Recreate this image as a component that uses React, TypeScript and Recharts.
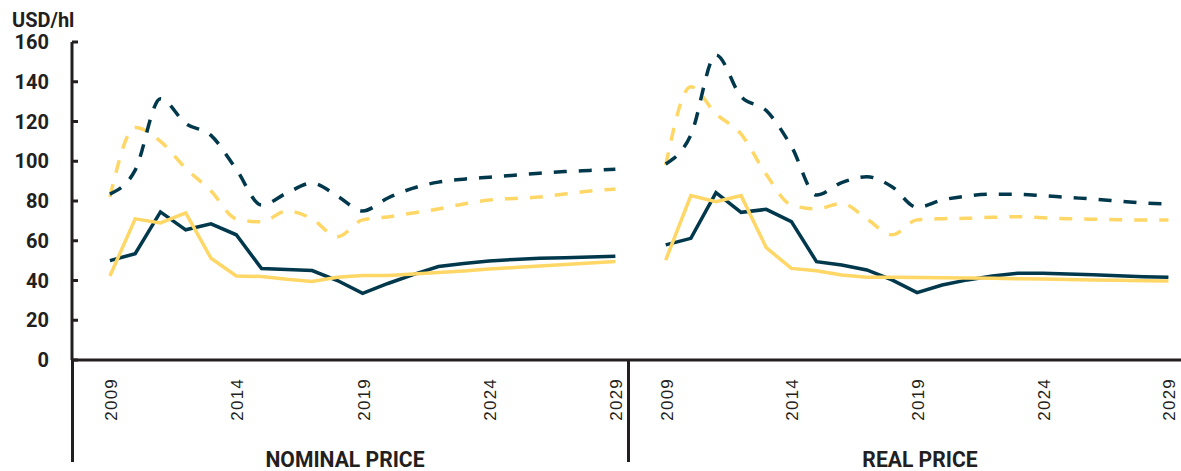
import React from "react";
import { LineChart, Line, XAxis, YAxis } from "recharts";

const years = [
  2009, 2010, 2011, 2012, 2013, 2014, 2015, 2016, 2017, 2018, 2019,
  2020, 2021, 2022, 2023, 2024, 2025, 2026, 2027, 2028, 2029,
];

// nominal price, USD/hl
const nominalDarkSolid = [50, 53.5, 74.5, 65.5, 68.5, 63, 46, 45.5, 45, 40, 33.5, 38.5, 43, 47, 48.6, 49.8, 50.6, 51.2, 51.5, 51.8, 52.2];
const nominalYellowSolid = [42.3, 71, 69, 74, 51.2, 42.3, 42, 40.6, 39.5, 41.6, 42.5, 42.5, 43.3, 44, 44.8, 45.8, 46.5, 47.3, 48, 48.8, 49.5];
const nominalDarkDashed = [83.5, 95.5, 131.5, 119, 113, 96, 78, 84, 89, 82.5, 75, 81.5, 86.5, 89.5, 91, 92, 93, 94, 94.8, 95.4, 96];
const nominalYellowDashed = [82, 117, 110, 96.5, 85, 71, 69.5, 75, 71, 62, 70.5, 72, 74, 76, 78.5, 80.5, 81.3, 82, 83.5, 85, 86];

// real price, USD/hl
const realDarkSolid = [57.9, 61.2, 84.2, 74.3, 75.8, 69.6, 49.5, 47.8, 45.3, 40.3, 33.9, 37.7, 40.3, 42.3, 43.6, 43.6, 43.3, 42.9, 42.4, 41.9, 41.6];
const realYellowSolid = [50.3, 82.7, 79.7, 82.7, 56.5, 46.1, 44.9, 42.8, 41.6, 41.6, 41.5, 41.4, 41.3, 41.1, 40.9, 40.7, 40.5, 40.3, 40.1, 39.9, 39.8];
const realDarkDashed = [98.6, 113.2, 153.5, 132.5, 125.5, 107.5, 83, 89.2, 92.2, 87.2, 76.8, 80.5, 82.5, 83.4, 83.4, 82.7, 81.8, 81, 80, 79, 78.5];
const realYellowDashed = [98, 137.5, 123.8, 113.7, 93.3, 78, 76, 78.8, 71, 63, 70.5, 71.1, 71.3, 71.8, 72.1, 71.6, 71.1, 70.8, 70.6, 70.4, 70.4];

const yearTicks = [2009, 2014, 2019, 2024, 2029];
const priceTicks = [0, 20, 40, 60, 80, 100, 120, 140, 160];

const DARK = "#01384c";
const YELLOW = "#ffd766";
const INK = "#231f20";

const nominalData = years.map((year, i) => ({
  year,
  darkSolid: nominalDarkSolid[i],
  yellowSolid: nominalYellowSolid[i],
  darkDashed: nominalDarkDashed[i],
  yellowDashed: nominalYellowDashed[i],
}));

const realData = years.map((year, i) => ({
  year,
  darkSolid: realDarkSolid[i],
  yellowSolid: realYellowSolid[i],
  darkDashed: realDarkDashed[i],
  yellowDashed: realYellowDashed[i],
}));

const YearTick = ({ x, payload }: any) => (
  <text
    transform={`translate(${x + 7},378) rotate(-90)`}
    textAnchor="end"
    fontFamily="'Liberation Sans', Arial, sans-serif"
    fontSize={17}
    letterSpacing={1.2}
    fill={INK}
  >
    {payload.value}
  </text>
);

const PriceTick = ({ y, payload }: any) => (
  <g>
    <line x1={72} x2={78} y1={y} y2={y} stroke={INK} strokeWidth={3} />
    <text
      x={49}
      y={y}
      dy="0.36em"
      textAnchor="end"
      fontFamily="Roboto, sans-serif"
      fontWeight={700}
      fontSize={20}
      fill={INK}
    >
      {payload.value}
    </text>
  </g>
);

function Panel({ data, width, showAxis }: { data: any[]; width: number; showAxis: boolean }) {
  return (
    <LineChart width={width} height={471} data={data} margin={{ top: 42, right: 0, bottom: 0, left: 0 }}>
      <XAxis
        dataKey="year"
        type="number"
        domain={[2007.5, 2029.5]}
        ticks={yearTicks}
        interval={0}
        height={111}
        axisLine={{ stroke: INK, strokeWidth: 3 }}
        tickLine={false}
        tick={<YearTick />}
      />
      <YAxis
        domain={[0, 160]}
        ticks={priceTicks}
        width={72}
        hide={!showAxis}
        axisLine={{ stroke: INK, strokeWidth: 3 }}
        tickLine={false}
        tick={<PriceTick />}
      />
      <Line dataKey="yellowDashed" type="monotone" stroke={YELLOW} strokeWidth={3.5} strokeDasharray="13 12" dot={false} isAnimationActive={false} />
      <Line dataKey="darkDashed" type="monotone" stroke={DARK} strokeWidth={3.5} strokeDasharray="13 12" dot={false} isAnimationActive={false} />
      <Line dataKey="darkSolid" type="linear" stroke={DARK} strokeWidth={3.5} dot={false} isAnimationActive={false} />
      <Line dataKey="yellowSolid" type="linear" stroke={YELLOW} strokeWidth={3.5} dot={false} isAnimationActive={false} />
    </LineChart>
  );
}

const groupLabel: React.CSSProperties = {
  position: "absolute",
  top: 449,
  fontFamily: "Roboto, sans-serif",
  fontWeight: 700,
  fontSize: 22,
  lineHeight: "22px",
  color: INK,
  whiteSpace: "nowrap",
  transform: "translateX(-50%) scaleX(0.96)",
};

export default function App() {
  return (
    <div style={{ position: "absolute", left: 0, top: 0, width: 1181, height: 471, overflow: "hidden", background: "#fff" }}>
      <div style={{ position: "absolute", left: 0, top: 0 }}>
        <Panel data={nominalData} width={628} showAxis />
      </div>
      <div style={{ position: "absolute", left: 628, top: 0 }}>
        <Panel data={realData} width={553} showAxis={false} />
      </div>

      {/* axis extensions below the zero line */}
      <div style={{ position: "absolute", left: 70.5, top: 360, width: 3, height: 102, background: INK }} />
      <div style={{ position: "absolute", left: 627, top: 360, width: 2.5, height: 102, background: INK }} />

      <div style={{ position: "absolute", left: 12, top: 11, fontFamily: "Roboto, sans-serif", fontWeight: 700, fontSize: 20, lineHeight: "18px", color: INK }}>
        USD/hl
      </div>

      <div style={{ ...groupLabel, left: 345 }}>NOMINAL PRICE</div>
      <div style={{ ...groupLabel, left: 920 }}>REAL PRICE</div>
    </div>
  );
}
